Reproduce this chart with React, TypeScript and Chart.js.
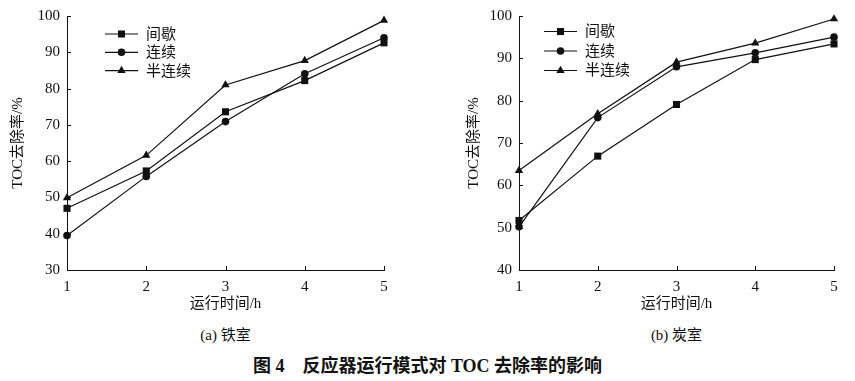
import { useEffect, useRef } from 'react';
import { Chart, registerables } from 'chart.js';

Chart.register(...registerables);

// ---- data ----
const timeLabels = ['1', '2', '3', '4', '5'];
const seriesNames = ['间歇', '连续', '半连续'];
const seriesMarkers = ['rect', 'circle', 'triangle'];

// (a) 铁室
const ironIntermittent = [47.0, 57.3, 73.6, 82.2, 92.6];
const ironContinuous = [39.5, 55.8, 70.9, 84.1, 94.0];
const ironSemi = [49.9, 61.6, 81.0, 87.7, 98.8];

// (b) 炭室
const carbonIntermittent = [51.7, 66.9, 79.1, 89.7, 93.4];
const carbonContinuous = [50.2, 76.0, 88.0, 91.3, 95.0];
const carbonSemi = [63.5, 76.9, 89.1, 93.6, 99.3];

const yTitle = 'TOC去除率/%';
const xTitle = '运行时间/h';
const subTitleA = '(a) 铁室';
const subTitleB = '(b) 炭室';
const caption = '图 4\u3000反应器运行模式对 TOC 去除率的影响';

const FONT = '"Liberation Serif", "Noto Sans CJK SC", serif';
const INK = '#111';

function markerRadius(style: string) {
  if (style === 'rect') return 5;
  if (style === 'circle') return 3.8;
  return 4.8;
}

function drawMarker(ctx: CanvasRenderingContext2D, style: string, x: number, y: number) {
  const r = markerRadius(style);
  ctx.beginPath();
  if (style === 'rect') {
    const s = r * Math.SQRT1_2;
    ctx.rect(x - s, y - s, 2 * s, 2 * s);
  } else if (style === 'circle') {
    ctx.arc(x, y, r, 0, Math.PI * 2);
  } else {
    let rad = 0;
    ctx.moveTo(x + Math.sin(rad) * r, y - Math.cos(rad) * r);
    rad += (2 * Math.PI) / 3;
    ctx.lineTo(x + Math.sin(rad) * r, y - Math.cos(rad) * r);
    rad += (2 * Math.PI) / 3;
    ctx.lineTo(x + Math.sin(rad) * r, y - Math.cos(rad) * r);
    ctx.closePath();
  }
  ctx.fill();
}

const innerTicksPlugin = {
  id: 'innerTicks',
  afterDatasetsDraw(chart: any) {
    const { ctx, chartArea, scales } = chart;
    ctx.save();
    ctx.strokeStyle = INK;
    ctx.lineWidth = 1;
    const ys = scales.y;
    ys.ticks.forEach((t: any) => {
      const py = Math.round(ys.getPixelForValue(t.value)) + 0.5;
      ctx.beginPath();
      ctx.moveTo(chartArea.left, py);
      ctx.lineTo(chartArea.left + 4, py);
      ctx.stroke();
    });
    const xs = scales.x;
    xs.ticks.forEach((_t: any, i: number) => {
      const px = Math.round(xs.getPixelForTick(i)) + 0.5;
      ctx.beginPath();
      ctx.moveTo(px, chartArea.bottom);
      ctx.lineTo(px, chartArea.bottom - 4);
      ctx.stroke();
    });
    ctx.restore();
  },
};

const lineLegendPlugin = {
  id: 'lineLegend',
  afterDraw(chart: any, _args: any, opts: any) {
    const { ctx, chartArea } = chart;
    ctx.save();
    chart.data.datasets.forEach((ds: any, i: number) => {
      const y = chartArea.top + opts.top + i * opts.gap;
      const x0 = chartArea.left + opts.left;
      const x1 = x0 + 33;
      ctx.strokeStyle = INK;
      ctx.lineWidth = 1.2;
      ctx.beginPath();
      ctx.moveTo(x0, y);
      ctx.lineTo(x1, y);
      ctx.stroke();
      ctx.fillStyle = INK;
      drawMarker(ctx, ds.pointStyle, (x0 + x1) / 2, y);
      ctx.font = `15px ${FONT}`;
      ctx.textBaseline = 'middle';
      ctx.textAlign = 'left';
      ctx.fillText(ds.label, x1 + 8, y + 1);
    });
    ctx.restore();
  },
};

type PanelProps = {
  left: number;
  width: number;
  rightPad: number;
  yMin: number;
  series: number[][];
  yTitlePad: number;
  legendLeft: number;
  legendTop: number;
  legendGap: number;
};

function Panel(p: PanelProps) {
  const ref = useRef<HTMLCanvasElement | null>(null);
  useEffect(() => {
    if (!ref.current) return;
    const chart = new Chart(ref.current, {
      type: 'line',
      data: {
        labels: timeLabels,
        datasets: p.series.map((vals, i) => ({
          label: seriesNames[i],
          data: vals,
          borderColor: INK,
          backgroundColor: INK,
          borderWidth: 1.2,
          pointStyle: seriesMarkers[i] as any,
          pointRadius: markerRadius(seriesMarkers[i]),
          pointBackgroundColor: INK,
          pointBorderColor: INK,
          pointBorderWidth: 0,
          tension: 0,
          clip: false as any,
        })),
      },
      options: {
        animation: false,
        responsive: false,
        devicePixelRatio: 1,
        layout: { padding: { left: 0, top: 14, right: p.rightPad, bottom: 0 } },
        plugins: {
          legend: { display: false },
          tooltip: { enabled: false },
          lineLegend: { left: p.legendLeft, top: p.legendTop, gap: p.legendGap },
        } as any,
        scales: {
          x: {
            type: 'category',
            offset: false,
            grid: { display: false, drawTicks: false },
            border: { display: true, color: INK, width: 1 },
            ticks: { color: INK, font: { family: FONT, size: 15 }, padding: 8, maxRotation: 0 },
            title: {
              display: true,
              text: xTitle,
              color: INK,
              font: { family: FONT, size: 15 },
              padding: { top: 0, bottom: 7 },
            },
            afterFit: (s: any) => {
              s.height = 50;
            },
          },
          y: {
            min: p.yMin,
            max: 100,
            grid: { display: false, drawTicks: false },
            border: { display: true, color: INK, width: 1 },
            ticks: { stepSize: 10, color: INK, font: { family: FONT, size: 15 }, padding: 7 },
            title: {
              display: true,
              text: yTitle,
              color: INK,
              font: { family: FONT, size: 15 },
              padding: { top: p.yTitlePad, bottom: 0 },
            },
            afterFit: (s: any) => {
              s.width = 67;
            },
          },
        },
      },
      plugins: [innerTicksPlugin, lineLegendPlugin],
    });
    return () => chart.destroy();
  }, []);
  return (
    <canvas
      ref={ref}
      width={p.width}
      height={320}
      style={{ position: 'absolute', left: p.left, top: 0, width: p.width, height: 320 }}
    />
  );
}

export default function App() {
  const textStyle: any = {
    position: 'absolute',
    fontFamily: FONT,
    color: INK,
    textAlign: 'center',
    whiteSpace: 'pre',
  };
  return (
    <div
      style={{
        position: 'fixed',
        left: 0,
        top: 0,
        width: 855,
        height: 381,
        background: '#fff',
        overflow: 'hidden',
      }}
    >
      <Panel
        left={0}
        width={440}
        rightPad={56}
        yMin={30}
        series={[ironIntermittent, ironContinuous, ironSemi]}
        yTitlePad={9.5}
        legendLeft={38}
        legendTop={18}
        legendGap={18.3}
      />
      <Panel
        left={452}
        width={400}
        rightPad={18}
        yMin={40}
        series={[carbonIntermittent, carbonContinuous, carbonSemi]}
        yTitlePad={13}
        legendLeft={25}
        legendTop={15.5}
        legendGap={19.5}
      />
      <div style={{ ...textStyle, left: 67, width: 317, top: 325, fontSize: 15, lineHeight: '20px' }}>
        {subTitleA}
      </div>
      <div style={{ ...textStyle, left: 519, width: 315, top: 325, fontSize: 15, lineHeight: '20px' }}>
        {subTitleB}
      </div>
      <div
        style={{
          ...textStyle,
          left: 0,
          width: 855,
          top: 355,
          fontSize: 18,
          fontWeight: 'bold',
          lineHeight: '22px',
        }}
      >
        {caption}
      </div>
    </div>
  );
}
